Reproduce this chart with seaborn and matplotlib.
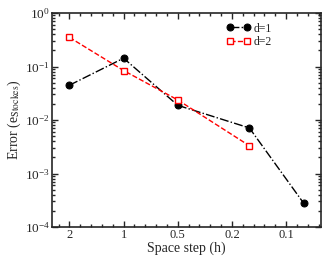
import numpy as np
import pandas as pd
import seaborn as sns
import matplotlib
matplotlib.use("Agg")
import matplotlib.pyplot as plt
from matplotlib.ticker import FixedLocator, LogFormatterMathtext, NullFormatter

# values
h = [2, 1, 0.5, 0.2, 0.1]
err_d1 = [0.0447, 0.143, 0.0188, 0.0071, 0.00028]
h_d2 = [2, 1, 0.5, 0.2]
err_d2 = [0.35, 0.084, 0.0237, 0.0033]
xtick_pos = [2, 1, 0.5, 0.25, 0.125]
xtick_labels = ["2", "1", "0.5", "0.2", "0.1"]

sns.set_style("ticks")
plt.rcParams['font.family'] = ['Liberation Serif', 'DejaVu Serif']
plt.rcParams['mathtext.fontset'] = 'stix'

fig, ax = plt.subplots(figsize=(3.32, 2.57), dpi=100)
fig.subplots_adjust(left=52/332, right=321/332, top=1-13/257, bottom=1-227/257)

df1 = pd.DataFrame({'h': h, 'err': err_d1})
df2 = pd.DataFrame({'h': h_d2, 'err': err_d2})

sns.lineplot(data=df1, x='h', y='err', ax=ax, color='black', linestyle='-.',
             linewidth=1.0, marker='o', markersize=5, markeredgecolor='black',
             label='d=1', sort=False)
sns.lineplot(data=df2, x='h', y='err', ax=ax, color='red', linestyle='--',
             linewidth=1.0, marker='s', markersize=5, markerfacecolor='white',
             markeredgecolor='red', markeredgewidth=1.0, label='d=2', sort=False)

ax.set_xscale('log', base=2)
ax.set_yscale('log')
ax.set_xlim(2.5, 0.08)
ax.set_ylim(1e-4, 1)

ax.xaxis.set_major_locator(FixedLocator(xtick_pos))
ax.set_xticklabels(xtick_labels)
minors = [2 ** (k / 5) for k in range(-20, 7) if k % 5 != 0]
ax.xaxis.set_minor_locator(FixedLocator(minors))
ax.xaxis.set_minor_formatter(NullFormatter())
ax.yaxis.set_major_formatter(LogFormatterMathtext())

ax.tick_params(which='both', direction='in', top=True, right=True, width=1)
ax.tick_params(which='major', length=4)
ax.tick_params(which='minor', length=2)
ax.tick_params(axis='x', labelsize=9, pad=1.5)
ax.tick_params(axis='y', labelsize=9.5, pad=1.5)
for s in ax.spines.values():
    s.set_linewidth(1.2)

ax.set_xlabel('Space step (h)', fontsize=10, labelpad=0)
ax.set_ylabel(r'Error (e$_{\mathrm{Stockes}}$)', fontsize=10, labelpad=1)

ax.legend(loc='upper left', bbox_to_anchor=(0.65, 0.955), frameon=False,
          fontsize=8.5, borderaxespad=0, borderpad=0, handlelength=2.0,
          handletextpad=0.3, labelspacing=0.15, numpoints=2)

fig.savefig('out.png', dpi=100)
